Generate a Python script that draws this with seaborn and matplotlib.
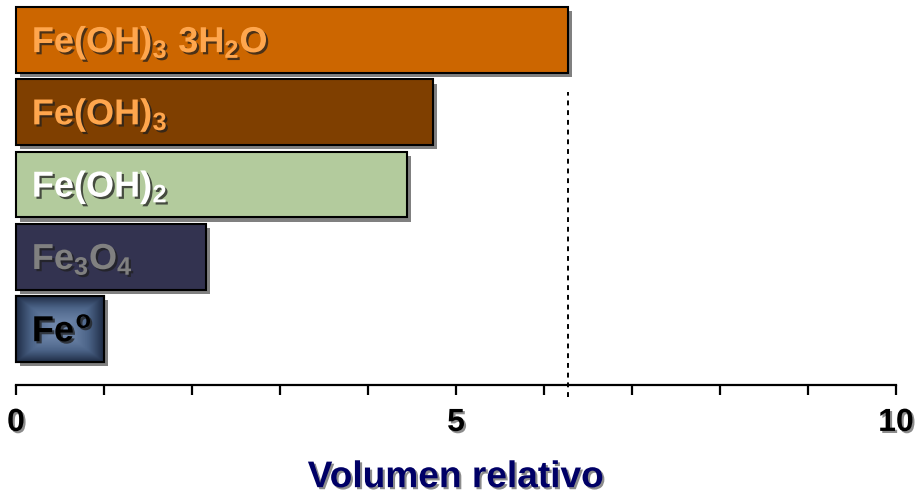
import numpy as np
import matplotlib
matplotlib.use("Agg")
import matplotlib.pyplot as plt
import matplotlib.patheffects as pe
from matplotlib.colors import LinearSegmentedColormap
from matplotlib.patches import Rectangle
import pandas as pd
import seaborn as sns

# Relative volume of iron and its corrosion products
compounds = ["Fe(OH)3·3H2O", "Fe(OH)3", "Fe(OH)2", "Fe3O4", "Fe"]
labels = [r"$Fe(OH)_3\ 3H_2O$", r"$Fe(OH)_3$", r"$Fe(OH)_2$", r"$Fe_3O_4$", r"$Fe^o$"]
volumes = [6.27, 4.74, 4.44, 2.16, 1.0]
reference_volume = 6.27

bar_colors = ["#CC6600", "#7F3F00", "#B3CB9D", "#333350", "#3F5675"]
text_colors = ["#FFA64D", "#FFA64D", "#FFFFFF", "#808080", "#000000"]

xticks = list(range(0, 11))
xticklabels = ["0", "", "", "", "", "5", "", "", "", "", "10"]

sns.set_theme(style="white")
plt.rcParams["font.family"] = ["Liberation Sans", "DejaVu Sans"]
plt.rcParams["font.weight"] = "bold"
plt.rcParams["mathtext.fontset"] = "custom"
plt.rcParams["mathtext.rm"] = "Liberation Sans:bold"
plt.rcParams["mathtext.it"] = "Liberation Sans:bold"
plt.rcParams["mathtext.bf"] = "Liberation Sans:bold"

df = pd.DataFrame({"compound": compounds, "volume": volumes})

W, H = 917, 496
fig = plt.figure(figsize=(W / 100, H / 100), dpi=100)
ax = fig.add_axes([16 / W, 111 / H, 880 / W, 385 / H])

sns.barplot(data=df, x="volume", y="compound", hue="compound", palette=bar_colors,
            orient="h", width=0.91, saturation=1, edgecolor="black", linewidth=1.5,
            legend=False, ax=ax)

bar_shadow = [pe.SimplePatchShadow(offset=(3, -3), shadow_rgbFace="#808080", alpha=1.0),
              pe.Normal()]
patches = sorted(ax.patches, key=lambda p: p.get_y())
for p in patches:
    p.set_clip_on(False)
    p.set_path_effects(bar_shadow)

# Steel-blue rectangular glow on the metallic iron bar
fe_bar = patches[4]
x0, y0 = fe_bar.get_x(), fe_bar.get_y()
bw, bh = fe_bar.get_width(), fe_bar.get_height()
u = np.linspace(-1, 1, 200)
uu, vv = np.meshgrid(u, u)
dist = np.maximum(np.abs(uu), np.abs(vv)) ** 1.6
steel = LinearSegmentedColormap.from_list("steel", ["#7189AD", "#4B6387", "#1E2B44"])
img = ax.imshow(dist, cmap=steel, extent=(x0, x0 + bw, y0 + bh, y0), aspect="auto",
                interpolation="bilinear", zorder=fe_bar.get_zorder() + 0.1)
img.set_clip_path(fe_bar)
ax.add_patch(Rectangle((x0, y0), bw, bh, fill=False, edgecolor="black", linewidth=1.5,
                       zorder=fe_bar.get_zorder() + 0.2, clip_on=False))

text_shadow = [pe.SimplePatchShadow(offset=(1.6, -1.6), shadow_rgbFace="#202020", alpha=0.75),
               pe.Normal()]
for i, (lab, col) in enumerate(zip(labels, text_colors)):
    t = ax.text(0.18, i + 0.17, lab, color=col, fontsize=26,
                ha="left", va="baseline", zorder=10)
    t.set_path_effects(text_shadow)

ax.axvline(reference_volume, ymin=-0.03, ymax=0.76, color="black", linewidth=1.4,
           linestyle=(0, (2.5, 2.5)), clip_on=False, zorder=1)

ax.set_xlim(0, 10)
ax.set_ylim(4.775, -0.554)
ax.set_xticks(xticks)
ax.set_xticklabels(xticklabels)
ax.set_yticks([])
ax.set_ylabel("")
for side in ["top", "right", "left"]:
    ax.spines[side].set_visible(False)
ax.spines["bottom"].set_linewidth(1.6)
ax.spines["bottom"].set_color("black")
ax.tick_params(axis="x", direction="out", length=7.5, width=1.6, pad=9,
               labelsize=23, colors="black", bottom=True)
tick_shadow = [pe.SimplePatchShadow(offset=(1.5, -1.5), shadow_rgbFace="#808080", alpha=0.9),
               pe.Normal()]
for lbl in ax.get_xticklabels():
    lbl.set_fontweight("bold")
    lbl.set_path_effects(tick_shadow)

ax.set_xlabel("Volumen relativo", fontsize=26.7, fontweight="bold", color="#000066", labelpad=16)
ax.xaxis.label.set_path_effects(tick_shadow)

fig.savefig("out.png", dpi=100)
